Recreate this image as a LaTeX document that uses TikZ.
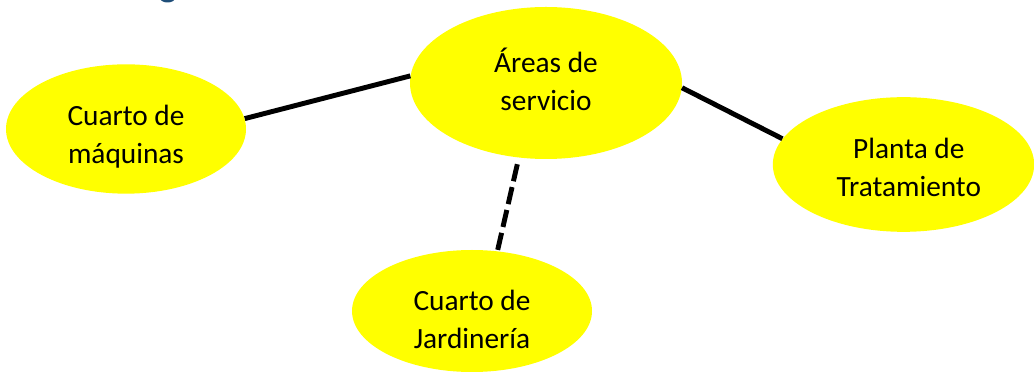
\documentclass[tikz,border=0pt]{standalone}
\usepackage{fontspec}
\setmainfont{Carlito}
\usetikzlibrary{shapes.geometric}
\definecolor{headblue}{HTML}{1F4E79}
\definecolor{bubbleyellow}{RGB}{255,255,0}

\begin{document}
\begin{tikzpicture}[x=0.75pt,y=-0.75pt,
    bubble/.style={ellipse,fill=bubbleyellow,inner sep=0pt},
    bubbletext/.style={align=center,inner sep=0pt,font=\fontsize{22}{28.5}\selectfont},
    link/.style={line width=3.7pt}]
    \useasboundingbox (0,0) rectangle (1034,373);
    \clip (0,0) rectangle (1034,373);
    \fill[headblue] (167.5,-2) ellipse (7.5 and 4.5);
    \node[bubble,minimum width=180pt,minimum height=97pt] (maq) at (126,129) {};
    \node[bubble,minimum width=204pt,minimum height=114pt] (areas) at (546,83) {};
    \node[bubble,minimum width=196pt,minimum height=101pt] (planta) at (903.5,164.5) {};
    \node[bubble,minimum width=180pt,minimum height=91.5pt] (jard) at (472,311) {};
    \node[bubbletext] (maqtext) at ([yshift=-6pt]maq.center) {Cuarto de\\máquinas};
    \node[bubbletext] (areastext) at ([yshift=3pt]areas.center) {Áreas de\\servicio};
    \node[bubbletext] (plantatext) at ([xshift=4pt,yshift=-2pt]planta.center) {Planta de\\Tratamiento};
    \node[bubbletext] (jardtext) at ([yshift=-6pt]jard.center) {Cuarto de\\Jardinería};
    \draw[link] (maq.5.4) -- (areas.177.8);
    \draw[link] (areas.-2.1) -- (planta.168.2);
    \draw[link,dash pattern=on 13.1pt off 4.5pt,shorten <=5pt] (areas.250.7) -- (jard.67);
\end{tikzpicture}
\end{document}
